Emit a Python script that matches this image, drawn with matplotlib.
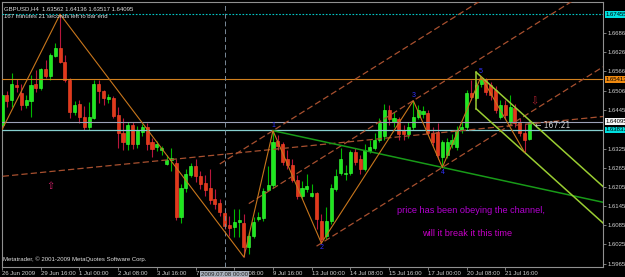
import numpy as np
import matplotlib
matplotlib.use("Agg")
import matplotlib.pyplot as plt
import matplotlib.transforms as mtransforms

plt.rcParams['font.family'] = ['Liberation Sans', 'DejaVu Sans']

# GBPUSD H4 bars, 26 Jun 2009 -> 22 Jul 2009
opens = [1.6400, 1.6494, 1.6478, 1.6525, 1.6500, 1.6462, 1.6475, 1.6528, 1.6515, 1.6575,
         1.6553, 1.6615, 1.6640, 1.6597, 1.6540, 1.6440, 1.6466, 1.6425, 1.6394, 1.6422,
         1.6528, 1.6506, 1.6481, 1.6484, 1.6431, 1.6375, 1.6338, 1.6400, 1.6338, 1.6378,
         1.6391, 1.6344, 1.6331, 1.6319, 1.6278, 1.6288, 1.6281, 1.6110, 1.6203, 1.6241,
         1.6269, 1.6238, 1.6216, 1.6200, 1.6166, 1.6154, 1.6122, 1.6085, 1.6079, 1.6094,
         1.6091, 1.6016, 1.6051, 1.6104, 1.6107, 1.6194, 1.6210, 1.6350, 1.6338, 1.6291,
         1.6275, 1.6228, 1.6175, 1.6197, 1.6178, 1.6185, 1.6097, 1.6051, 1.6097, 1.6197,
         1.6250, 1.6244, 1.6250, 1.6313, 1.6291, 1.6260, 1.6316, 1.6328, 1.6353, 1.6363,
         1.6447, 1.6409, 1.6416, 1.6384, 1.6369, 1.6391, 1.6425, 1.6434, 1.6437, 1.6375,
         1.6378, 1.6300, 1.6306, 1.6338, 1.6331, 1.6384, 1.6394, 1.6500, 1.6484, 1.6528,
         1.6544, 1.6525, 1.6509, 1.6425, 1.6462, 1.6409, 1.6453, 1.6409, 1.6375, 1.63562]
highs = [1.6503, 1.6506, 1.6562, 1.6544, 1.6528, 1.6494, 1.6556, 1.6572, 1.6578, 1.6603,
         1.6625, 1.6656, 1.67455, 1.6618, 1.6547, 1.6475, 1.6478, 1.6459, 1.6472, 1.6540,
         1.6540, 1.6509, 1.6497, 1.6490, 1.6456, 1.6422, 1.6409, 1.6409, 1.6397, 1.6403,
         1.6406, 1.6359, 1.6350, 1.6334, 1.6306, 1.6328, 1.6291, 1.6213, 1.6260, 1.6281,
         1.6291, 1.6254, 1.6241, 1.6260, 1.6197, 1.6166, 1.6135, 1.6113, 1.6135, 1.6135,
         1.6119, 1.6063, 1.6110, 1.6125, 1.6203, 1.6269, 1.6381, 1.6366, 1.6344, 1.6322,
         1.6291, 1.6241, 1.6222, 1.6244, 1.6213, 1.6188, 1.6119, 1.6141, 1.6213, 1.6260,
         1.6328, 1.6275, 1.6322, 1.6328, 1.6306, 1.6338, 1.6353, 1.6375, 1.6422, 1.6466,
         1.6462, 1.6440, 1.6425, 1.6400, 1.6409, 1.6475, 1.6462, 1.6459, 1.6447, 1.6391,
         1.6406, 1.6353, 1.6359, 1.6369, 1.6397, 1.6409, 1.6509, 1.6540, 1.6534, 1.6550,
         1.6547, 1.6534, 1.6522, 1.6478, 1.6478, 1.6494, 1.6466, 1.6422, 1.6403, 1.64136]
lows = [1.6384, 1.6456, 1.6456, 1.6503, 1.6447, 1.6453, 1.6425, 1.6503, 1.6509, 1.6547,
        1.6540, 1.6612, 1.6593, 1.6534, 1.6422, 1.6431, 1.6406, 1.6384, 1.6384, 1.6416,
        1.6469, 1.6462, 1.6469, 1.6422, 1.6328, 1.6322, 1.6322, 1.6325, 1.6328, 1.6363,
        1.6322, 1.6300, 1.6316, 1.6306, 1.6272, 1.6254, 1.6100, 1.6091, 1.6188, 1.6235,
        1.6219, 1.6197, 1.6175, 1.6150, 1.6135, 1.6113, 1.6072, 1.6051, 1.6047, 1.6047,
        1.5985, 1.5994, 1.6044, 1.6097, 1.6097, 1.6191, 1.6203, 1.6322, 1.6275, 1.6260,
        1.6219, 1.6166, 1.6166, 1.6188, 1.6172, 1.6072, 1.6029, 1.6041, 1.6088, 1.6191,
        1.6241, 1.6228, 1.6241, 1.6275, 1.6244, 1.6254, 1.6310, 1.6322, 1.6344, 1.6353,
        1.6400, 1.6394, 1.6353, 1.6353, 1.6359, 1.6384, 1.6416, 1.6422, 1.6366, 1.6334,
        1.6291, 1.6266, 1.6297, 1.6328, 1.6322, 1.6375, 1.6384, 1.6478, 1.6478, 1.6519,
        1.6494, 1.6478, 1.6437, 1.6416, 1.6416, 1.6400, 1.6391, 1.6363, 1.6313, 1.63517]
closes = [1.6494, 1.6475, 1.6528, 1.6519, 1.6462, 1.6478, 1.6525, 1.6515, 1.6575, 1.6553,
          1.6618, 1.6640, 1.6597, 1.6540, 1.6440, 1.6462, 1.6425, 1.6391, 1.6425, 1.6528,
          1.6506, 1.6484, 1.6487, 1.6428, 1.6375, 1.6344, 1.6400, 1.6338, 1.6384, 1.6391,
          1.6338, 1.6325, 1.6338, 1.6328, 1.6288, 1.6294, 1.6110, 1.6203, 1.6244, 1.6269,
          1.6238, 1.6213, 1.6194, 1.6163, 1.6150, 1.6125, 1.6082, 1.6075, 1.6094, 1.6100,
          1.6016, 1.6051, 1.6094, 1.6110, 1.6191, 1.6210, 1.6347, 1.6334, 1.6284, 1.6275,
          1.6228, 1.6175, 1.6203, 1.6207, 1.6185, 1.6104, 1.6041, 1.6097, 1.6203, 1.6238,
          1.6291, 1.6250, 1.6313, 1.6284, 1.6260, 1.6322, 1.6331, 1.6353, 1.6406, 1.6447,
          1.6416, 1.6422, 1.6369, 1.6369, 1.6391, 1.6425, 1.6447, 1.6443, 1.6375, 1.6344,
          1.6306, 1.6344, 1.6347, 1.6353, 1.6384, 1.6394, 1.6500, 1.6487, 1.6525, 1.6547,
          1.6503, 1.6494, 1.6447, 1.6462, 1.6431, 1.6456, 1.6406, 1.6375, 1.6353, 1.64095]

# time axis labels (every 8 bars)
tick_bars = [0, 8, 16, 24, 32, 40, 48, 56, 64, 72, 80, 88, 96, 104]
tick_names = ["26 Jun 2009", "29 Jun 16:00", "1 Jul 00:00", "2 Jul 08:00", "3 Jul 16:00",
              "7 Jul 00:00", "8 Jul 08:00", "9 Jul 16:00", "13 Jul 00:00", "14 Jul 08:00",
              "15 Jul 16:00", "17 Jul 00:00", "20 Jul 08:00", "21 Jul 16:00"]
price_ticks = [1.66865, 1.66265, 1.65665, 1.65060, 1.64450, 1.63250, 1.62650,
               1.62050, 1.61450, 1.60850, 1.60250, 1.59650]

# horizontal lines on the chart
cyan_level = 1.67455
orange_level = 1.65413
bid_level = 1.64095
ask_level = 1.63831
cursor_bar = 46
cursor_label = "2009.07.08 00:00"

# zigzag / wave points: (bar, 'H' or 'L')
zz_bars = [0, 12, 50, 56, 66, 85, 91, 99, 108]
zz_side = ['L', 'H', 'L', 'H', 'L', 'H', 'L', 'H', 'L']
wave_bars = [56, 66, 85, 91, 99]
wave_names = ["1", "2", "3", "4", "5"]

# a hand drawn near-flat trendline (bar, price)
flat_line = [(0, 1.6238), (124, 1.6425)]

note1 = "price has been obeying the channel,"
note2 = "will it break it this time"

o = np.array(opens); h = np.array(highs); l = np.array(lows); c = np.array(closes)
x = np.arange(len(o))
X_LO, X_HI = 0.15, 124.2
Y_LO, Y_HI = 1.59543, 1.67837

fig = plt.figure(figsize=(6.25, 2.77), dpi=100)
fig.patch.set_facecolor('black')
ax = fig.add_axes([2 / 625, 10 / 277, 601 / 625, 265 / 277])
ax.set_facecolor('black')
ax.set_xlim(X_LO, X_HI)
ax.set_ylim(Y_LO, Y_HI)

# candles
up = c >= o
body_lo = np.minimum(o, c)
body_h = np.maximum(np.abs(c - o), 0.0003)
wick_col = np.where(up, '#00b800', '#b8163c')
ax.vlines(x, l, h, colors=wick_col, lw=0.8, zorder=2)
ax.bar(x, body_h, bottom=body_lo, width=0.64,
       color=np.where(up, '#1ee81e', '#e2381c'),
       edgecolor=np.where(up, '#40ff40', '#ff4a28'), linewidth=0.4, zorder=3)

# horizontal / vertical objects
ax.axhline(cyan_level, color='#00c8c8', lw=0.8, ls=(0, (1.5, 1.5)), zorder=4)
ax.axhline(orange_level, color='#d2801e', lw=0.8, zorder=4)
ax.axhline(bid_level, color='#9ca2b8', lw=0.8, zorder=4)
ax.axhline(ask_level, color='#86d0d0', lw=0.9, zorder=4)
ax.axvline(cursor_bar, color='#7a8a98', lw=0.7, ls=(0, (5, 3)), zorder=4)


def px(b, side):
    return h[b] if side == 'H' else l[b]


def ray(b0, p0, b1, p1, b_start, b_end=X_HI):
    k = (p1 - p0) / (b1 - b0)
    return [b_start, b_end], [p0 + k * (b_start - b0), p0 + k * (b_end - b0)]


dash = dict(color='#a8502f', lw=0.9, ls=(0, (5, 2.5)), zorder=4)
# pitch lines: through wave 2 and 4 lows, parallels through 1 and 3 highs
k_p = (l[91] - l[66]) / (91 - 66)
xs, ys = ray(66, l[66], 91, l[91], 65)
ax.plot(xs, ys, **dash)
xs, ys = ray(56, h[56], 57, h[56] + k_p, 45)
ax.plot(xs, ys, **dash)
xs, ys = ray(85, h[85], 86, h[85] + k_p, 51)
ax.plot(xs, ys, **dash)
(fb0, fp0), (fb1, fp1) = flat_line
xs, ys = ray(fb0, fp0, fb1, fp1, X_LO)
ax.plot(xs, ys, **dash)

# green trendline wave 1 -> wave 4
xs, ys = ray(56, h[56], 91, l[91], 56)
ax.plot(xs, ys, color='#189a18', lw=1.1, zorder=5)

# yellow-green down channel
k_c = (h[109] - h[99]) / (109 - 99)
up_x, up_y = ray(99, h[99], 109, h[109], 98)
lo_x, lo_y = ray(108, l[108], 109, l[108] + k_c, 98)
ax.plot(up_x, up_y, color='#9acd32', lw=1.1, zorder=5)
ax.plot(lo_x, lo_y, color='#9acd32', lw=1.1, zorder=5)
ax.plot([98, 98], [up_y[0], lo_y[0]], color='#9acd32', lw=1.1, zorder=5)

# zigzag
ax.plot(zz_bars, [px(b, s) for b, s in zip(zz_bars, zz_side)],
        color='#c8761c', lw=0.8, zorder=6)
for b, name in zip(wave_bars, wave_names):
    side = zz_side[zz_bars.index(b)]
    if side == 'H':
        ax.text(b, h[b] + 0.0006, name, color='#3030ff', fontsize=5,
                ha='center', va='bottom', zorder=7)
    else:
        ax.text(b, l[b] - 0.0004, name, color='#3030ff', fontsize=5,
                ha='center', va='top', zorder=7)

# arrows, notes, timer
ax.text(10, 1.6207, "\u21e7", color='#d0206a', fontsize=7, ha='center', va='center',
        family=['DejaVu Sans'], zorder=7)
ax.text(110, 1.6472, "\u21e9", color='#b02030', fontsize=7, ha='center', va='center',
        family=['DejaVu Sans'], zorder=7)
ax.text(110.2, 1.6397, "\u2190 167:21", color='#d0d0d0', fontsize=5.5,
        ha='left', va='center', family=['DejaVu Sans'], zorder=7)
ax.text(81.7, 1.6132, note1, color='#b400d2', fontsize=6.6, ha='left', va='center', zorder=7)
ax.text(86.9, 1.6060, note2, color='#c800c8', fontsize=6.6, ha='left', va='center', zorder=7)

ax.text(0.004, 0.985, "GBPUSD,H4  1.63562 1.64136 1.63517 1.64095", color='#e0e0e0',
        fontsize=4.3, transform=ax.transAxes, va='top', ha='left', zorder=8)
ax.text(0.004, 0.955, "167 minutes 21 seconds left to bar end", color='#e0e0e0',
        fontsize=4.3, transform=ax.transAxes, va='top', ha='left', zorder=8)
ax.text(0.002, 0.02, "Metatrader, \u00a9 2001-2009 MetaQuotes Software Corp.", color='#e0e0e0',
        fontsize=4.3, transform=ax.transAxes, va='bottom', ha='left', zorder=8)

# axes styling
for s in ax.spines.values():
    s.set_color('#909090')
    s.set_linewidth(0.8)
ax.yaxis.tick_right()
ax.set_yticks(price_ticks)
ax.set_yticklabels([f"{p:.5f}" for p in price_ticks])
ax.set_xticks(tick_bars)
ax.set_xticklabels(tick_names)
ax.tick_params(axis='both', colors='#909090', labelcolor='#d0d0d0', labelsize=4.3,
               length=2, width=0.6, pad=1)
for lab in ax.get_xticklabels():
    lab.set_ha('left')

# highlighted price labels on the right axis
tr = mtransforms.blended_transform_factory(ax.transAxes, ax.transData)
for lvl, bg in [(cyan_level, '#00e0e0'), (orange_level, '#f08a10'),
                (bid_level, '#f4f4f4'), (ask_level, '#00e0e0')]:
    ax.text(1.004, lvl, f"{lvl:.5f}", transform=tr, fontsize=4.3, color='black',
            ha='left', va='center', clip_on=False, zorder=9,
            bbox=dict(boxstyle='square,pad=0.15', fc=bg, ec='none'))

# highlighted time label at the cursor line
trx = mtransforms.blended_transform_factory(ax.transData, ax.transAxes)
ax.text(cursor_bar, -0.018, cursor_label, transform=trx, fontsize=4.3, color='#202020',
        ha='center', va='top', clip_on=False, zorder=9,
        bbox=dict(boxstyle='square,pad=0.15', fc='#a8b0bc', ec='none'))

fig.savefig("out.png", dpi=100, facecolor='black')
